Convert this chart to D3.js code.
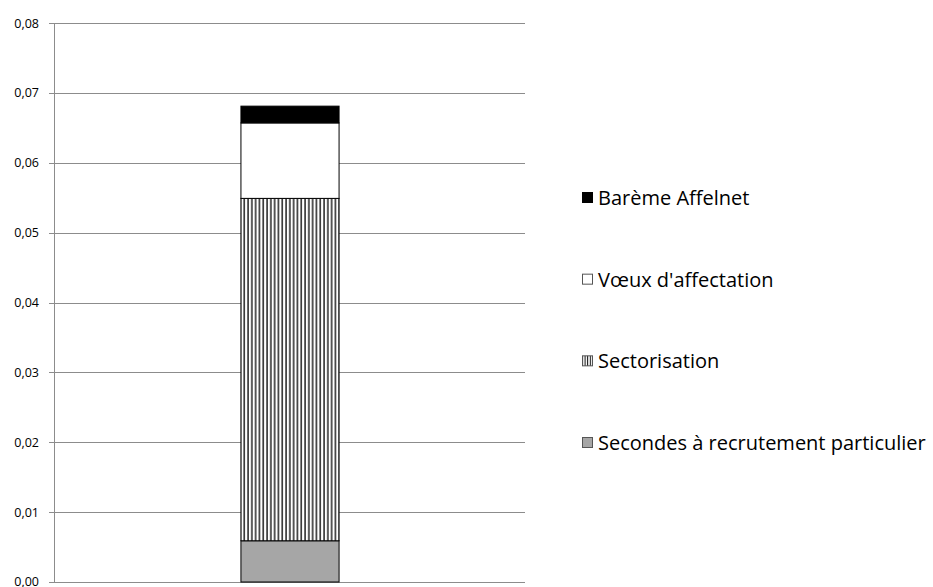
<!DOCTYPE html>
<html><head><meta charset="utf-8">
<script src="https://cdn.jsdelivr.net/npm/d3@7"></script>
<style>body{margin:0;background:#fff}svg{display:block}text{font-family:"Open Sans","Noto Sans",sans-serif}</style>
</head><body>
<svg id="c" width="933" height="587"></svg>
<script>
const categories = ["1"];
const seriesNames = ["Secondes à recrutement particulier","Sectorisation","Vœux d'affectation","Barème Affelnet"];
const seriesValues = [[0.0059],[0.0490],[0.0108],[0.0024]];
const yTicks = [0,0.01,0.02,0.03,0.04,0.05,0.06,0.07,0.08];
const yTickLabels = ["0,00","0,01","0,02","0,03","0,04","0,05","0,06","0,07","0,08"];

const svg = d3.select("#c");
const defs = svg.append("defs");
const pat = defs.append("pattern").attr("id","vstripe").attr("patternUnits","userSpaceOnUse")
  .attr("width",3.8).attr("height",10);
pat.append("rect").attr("width",3.8).attr("height",10).attr("fill","#fff");
pat.append("rect").attr("x",0.4).attr("width",1.3).attr("height",10).attr("fill","#000");
const legPat = defs.append("pattern").attr("id","vstripeL").attr("patternUnits","userSpaceOnUse")
  .attr("width",2.6).attr("height",10);
legPat.append("rect").attr("width",2.6).attr("height",10).attr("fill","#fff");
legPat.append("rect").attr("x",0).attr("width",1).attr("height",10).attr("fill","#000");

const fills = ["#a6a6a6","url(#vstripe)","#ffffff","#000000"];
const legFills = ["#a6a6a6","url(#vstripeL)","#ffffff","#000000"];

const L=54, R=525, T=23, B=582;
const x = d3.scaleBand().domain(categories).range([L,R]).paddingInner(0).paddingOuter(1.9);
const y = d3.scaleLinear().domain([0,0.08]).range([B,T]);

svg.append("g").selectAll("line").data(yTicks).join("line")
  .attr("x1",L-5).attr("x2",R).attr("y1",d=>Math.round(y(d))+0.5).attr("y2",d=>Math.round(y(d))+0.5)
  .attr("stroke","#8c8c8c").attr("stroke-width",1);
svg.append("line").attr("x1",L+0.5).attr("x2",L+0.5).attr("y1",T).attr("y2",B+0.5).attr("stroke","#8c8c8c");

svg.append("g").selectAll("text").data(yTicks).join("text")
  .attr("x",39).attr("y",d=>Math.min(y(d)+4.5,586)).attr("text-anchor","end")
  .attr("font-size",12.5).attr("fill","#000").text((d,i)=>yTickLabels[i]);

const rows = categories.map((c,ci)=>{const o={cat:c}; seriesNames.forEach((s,si)=>o[s]=seriesValues[si][ci]); return o;});
const stack = d3.stack().keys(seriesNames)(rows);
svg.append("g").selectAll("g").data(stack).join("g")
  .selectAll("rect").data((s,si)=>s.map(d=>({d,si}))).join("rect")
  .attr("x",o=>x(o.d.data.cat)+0.5).attr("width",x.bandwidth())
  .attr("y",o=>y(o.d[1])).attr("height",o=>y(o.d[0])-y(o.d[1]))
  .attr("fill",o=>fills[o.si]).attr("stroke","#000").attr("stroke-width",1);

const legOrder = [3,2,1,0];
const legY = d3.scalePoint().domain(legOrder).range([198,443]);
const lg = svg.append("g").selectAll("g").data(legOrder).join("g")
  .attr("transform",i=>`translate(582,${legY(i)})`);
lg.append("rect").attr("x",0.5).attr("y",-5.5).attr("width",10).attr("height",10)
  .attr("fill",i=>legFills[i]).attr("stroke",i=>i===3?"#000":"#555").attr("stroke-width",1);
lg.append("text").attr("x",16).attr("y",7).attr("font-size",20).attr("fill","#000").text(i=>seriesNames[i]);
</script>
</body></html>
